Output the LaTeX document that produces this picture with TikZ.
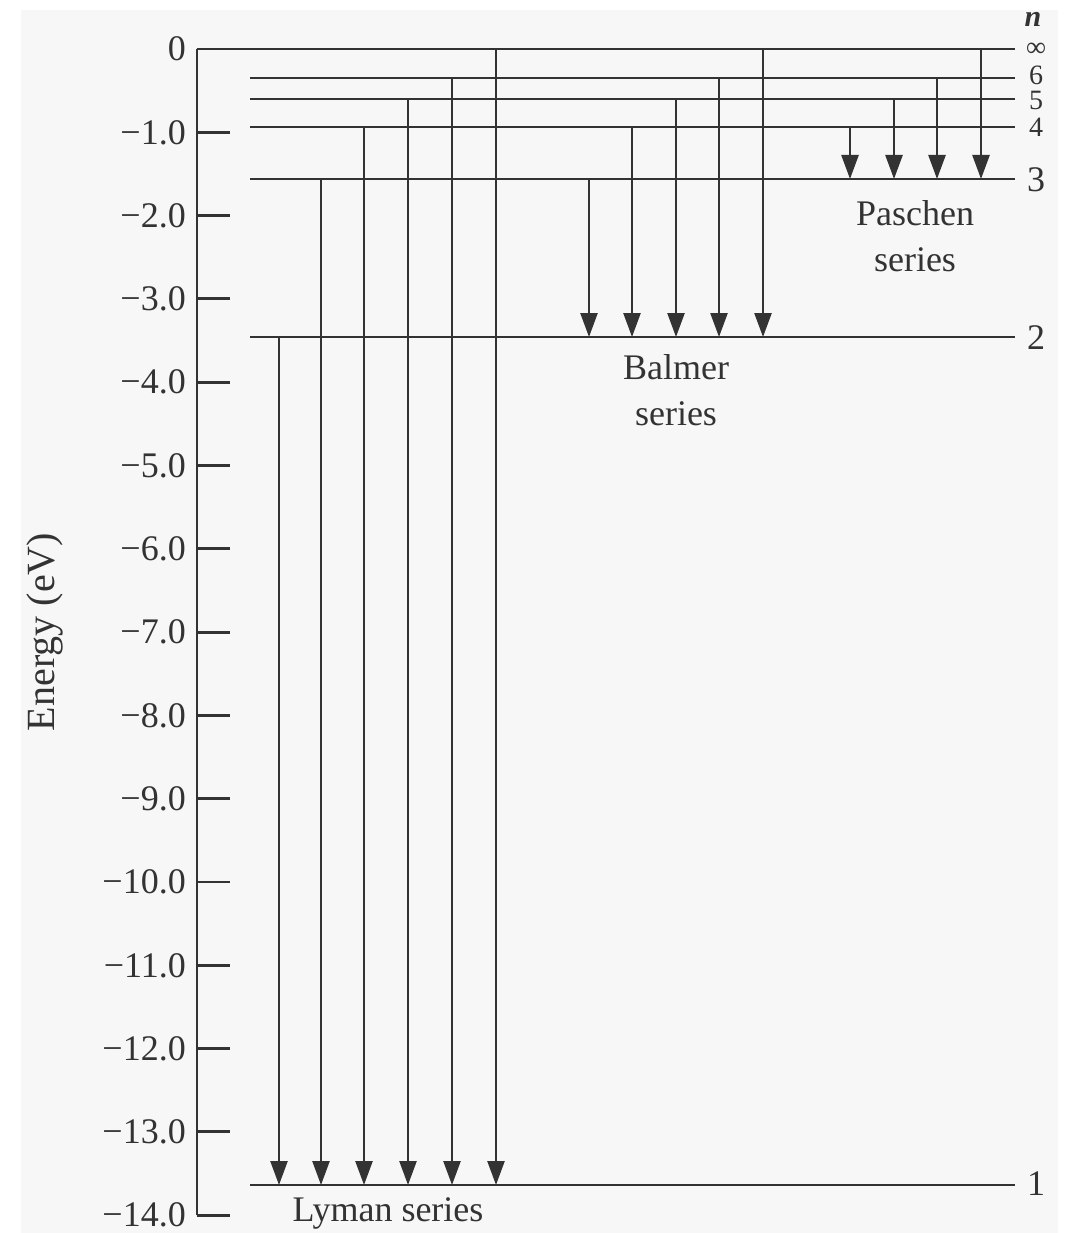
\documentclass[tikz,border=0pt]{standalone}
\usepackage{fontspec}
\setmainfont{Liberation Serif}
\usetikzlibrary{arrows.meta}
\definecolor{ink}{HTML}{333333}
\definecolor{paper}{HTML}{F7F7F7}

\begin{document}
\begin{tikzpicture}[x=1pt,y=-1pt,
  levelline/.style={draw=ink, line width=2.9pt},
  trans/.style={draw=ink, line width=2.5pt, -{Triangle[length=24pt,width=17pt]}},
  lbl/.style={text=ink, font=\fontsize{36}{46}\selectfont, inner sep=0pt},
  qnum/.style={lbl, anchor=base},
  smallq/.style={qnum, font=\fontsize{28}{34}\selectfont},
  serieslbl/.style={lbl, align=center},
 ]
\useasboundingbox (0,0) rectangle (1071,1233);
\fill[white] (0,0) rectangle (1071,1233);
\fill[paper] (21,10) rectangle (1058,1233);

% energy axis with ticks every 1 eV
\coordinate (axtop) at (197,49);
\coordinate (axbot) at (197,1215);
\draw[levelline] (axtop) -- (axbot);
\node[lbl, anchor=east] (tl0) at (186,49) {0};
\foreach \v in {1,...,14} {
  \coordinate (t\v) at (197,49+83.3*\v);
  \coordinate (te\v) at (230,49+83.3*\v);
  \draw[levelline] (t\v) -- (te\v);
  \node[lbl, anchor=east] (tl\v) at (186,49+83.3*\v) {−\v.0};
}
\node[lbl, font=\fontsize{40}{46}\selectfont, rotate=90] (ylabel) at (45,632) {Energy (eV)};

% energy levels
\foreach \n/\y in {6/78, 5/99, 4/127, 3/179, 2/337, 1/1185} {
  \coordinate (L\n w) at (250,\y);
  \coordinate (L\n e) at (1015,\y);
  \draw[levelline] (L\n w) -- (L\n e);
}
\coordinate (Linfw) at (197,49);
\coordinate (Linfe) at (1015,49);
\draw[levelline] (Linfw) -- (Linfe);

% quantum numbers (baselines)
\node[qnum, font=\fontsize{30}{36}\selectfont\itshape\bfseries] (nhead) at (1033,27) {n};
\node[smallq] (ninf) at (1036,57) {∞};
\node[smallq] (n6) at (1036,85) {6};
\node[smallq] (n5) at (1036,110) {5};
\node[smallq] (n4) at (1036,137) {4};
\node[qnum] (n3) at (1036,192) {3};
\node[qnum] (n2) at (1036,349) {2};
\node[qnum] (n1) at (1036,1195) {1};

% Lyman series (to n = 1)
\foreach \i/\x/\y in {1/279/337, 2/321/179, 3/364/127, 4/408/99, 5/452/78, 6/496/49} {
  \coordinate (ly\i s) at (\x,\y);
  \coordinate (ly\i e) at (\x,1185);
  \draw[trans] (ly\i s) -- (ly\i e);
}
% Balmer series (to n = 2)
\foreach \i/\x/\y in {1/589/179, 2/632/127, 3/676/99, 4/719/78, 5/763/49} {
  \coordinate (ba\i s) at (\x,\y);
  \coordinate (ba\i e) at (\x,337);
  \draw[trans] (ba\i s) -- (ba\i e);
}
% Paschen series (to n = 3)
\foreach \i/\x/\y in {1/850/127, 2/894/99, 3/937/78, 4/981/49} {
  \coordinate (pa\i s) at (\x,\y);
  \coordinate (pa\i e) at (\x,179);
  \draw[trans] (pa\i s) -- (pa\i e);
}

\node[serieslbl] (lyman) at (388,1213) {Lyman series};
\node[serieslbl] (balmer) at (676,390) {Balmer\\series};
\node[serieslbl] (paschen) at (915,236) {Paschen\\series};
\end{tikzpicture}
\end{document}
